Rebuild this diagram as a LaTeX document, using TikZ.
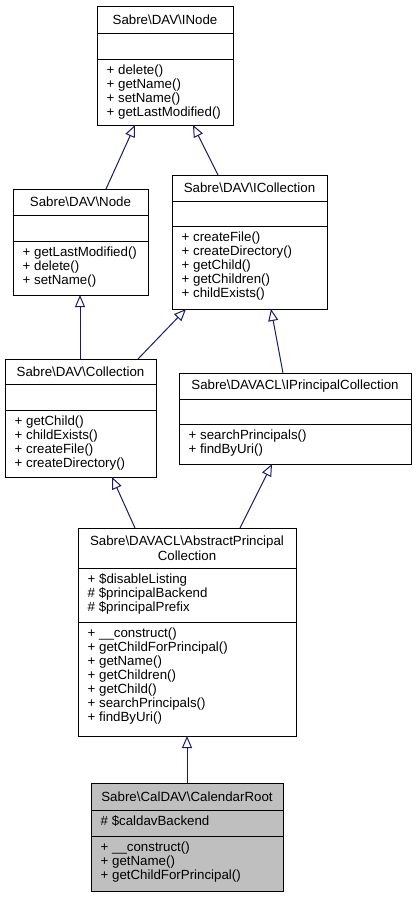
\documentclass[tikz,border=0pt]{standalone}
\usepackage{fontspec}
\setmainfont{Liberation Sans}
\usetikzlibrary{arrows.meta}
\definecolor{edgeblue}{HTML}{191970}
\definecolor{clsgray}{HTML}{BFBFBF}
\newcommand{\bs}{\textbackslash}
\tikzset{
  clsbox/.style={draw=black, line width=1pt, inner sep=0pt, outer sep=0pt},
  clsline/.style={draw=black, line width=1pt},
  member/.style={anchor=base west, inner sep=0pt, font=\fontsize{13.3}{14}\selectfont},
  clstitle/.style={inner sep=0pt, align=center, font=\fontsize{13.3}{15}\selectfont},
  inh/.style={draw=edgeblue, line width=1pt, -{Triangle[open, length=12pt, width=10pt]}}
}
\newcommand{\umlbox}[8]{%
  \node[clsbox, fill=#8, minimum width=#4pt, minimum height=#5pt, anchor=north west] (#1) at (#2,#3) {};
  \draw[clsline] ([yshift=-#6pt]#1.north west) -- ([yshift=-#6pt]#1.north east);
  \draw[clsline] ([yshift=-#7pt]#1.north west) -- ([yshift=-#7pt]#1.north east);
}
\newcommand{\memberlist}[4]{%
  \foreach \t [count=\i] in {#4} {\node[member] (#1-\i) at (#2,{#3+(\i-1)*14}) {\t};}%
}
\begin{document}
\begin{tikzpicture}[x=1pt,y=-1pt]
\useasboundingbox[fill=white] (0,0) rectangle (416,897);

% INode
\umlbox{inode}{97}{6}{136}{119}{27}{53}{white}
\node[clstitle] (inode-t) at ([yshift=-13.5pt]inode.north) {Sabre\bs DAV\bs INode};
\memberlist{inode-m}{106.5}{74.5}{+ delete(),+ getName(),+ setName(),+ getLastModified()}

% Node
\umlbox{davnode}{13}{189}{135}{106}{26}{52}{white}
\node[clstitle] (davnode-t) at ([yshift=-13pt]davnode.north) {Sabre\bs DAV\bs Node};
\memberlist{davnode-m}{22.5}{256.5}{+ getLastModified(),+ delete(),+ setName()}

% ICollection
\umlbox{icoll}{172}{175}{155}{134}{26}{51}{white}
\node[clstitle] (icoll-t) at ([yshift=-13pt]icoll.north) {Sabre\bs DAV\bs ICollection};
\memberlist{icoll-m}{181.5}{241.5}{+ createFile(),+ createDirectory(),+ getChild(),+ getChildren(),+ childExists()}

% Collection
\umlbox{coll}{5}{359}{151}{118}{25}{51}{white}
\node[clstitle] (coll-t) at ([yshift=-12.5pt]coll.north) {Sabre\bs DAV\bs Collection};
\memberlist{coll-m}{14.5}{425.5}{+ getChild(),+ childExists(),+ createFile(),+ createDirectory()}

% IPrincipalCollection
\umlbox{ipc}{179}{373}{232}{91}{26}{51}{white}
\node[clstitle] (ipc-t) at ([yshift=-13pt]ipc.north) {Sabre\bs DAVACL\bs IPrincipalCollection};
\memberlist{ipc-m}{188.5}{439.5}{+ searchPrincipals(),+ findByUri()}

% AbstractPrincipalCollection
\umlbox{apc}{78}{528}{218}{208}{40}{94}{white}
\node[clstitle] (apc-t) at ([yshift=-20pt]apc.north) {Sabre\bs DAVACL\bs AbstractPrincipal\\Collection};
\memberlist{apc-a}{87.5}{583.5}{+ \$disableListing,\# \$principalBackend,\# \$principalPrefix}
\memberlist{apc-m}{87.5}{637.5}{+ \_\_construct(),+ getChildForPrincipal(),+ getName(),+ getChildren(),+ getChild(),+ searchPrincipals(),+ findByUri()}

% CalendarRoot
\umlbox{calroot}{91}{783}{192}{108}{27}{53}{clsgray}
\node[clstitle] (calroot-t) at ([yshift=-13.5pt]calroot.north) {Sabre\bs CalDAV\bs CalendarRoot};
\memberlist{calroot-a}{100.5}{825.5}{\# \$caldavBackend}
\memberlist{calroot-m}{100.5}{851.5}{+ \_\_construct(),+ getName(),+ getChildForPrincipal()}

% inheritance edges
\draw[inh] ([xshift=93pt]davnode.north west) -- ([xshift=38pt]inode.south west);
\draw[inh] ([xshift=46pt]icoll.north west) -- ([xshift=96pt]inode.south west);
\draw[inh] ([xshift=75pt]coll.north west) -- ([xshift=67pt]davnode.south west);
\draw[inh] ([xshift=133pt]coll.north west) -- ([xshift=14pt]icoll.south west);
\draw[inh] ([xshift=104pt]ipc.north west) -- ([xshift=99pt]icoll.south west);
\draw[inh] ([xshift=57pt]apc.north west) -- ([xshift=107pt]coll.south west);
\draw[inh] ([xshift=162pt]apc.north west) -- ([xshift=93pt]ipc.south west);
\draw[inh] ([xshift=96pt]calroot.north west) -- ([xshift=109pt]apc.south west);
\end{tikzpicture}
\end{document}
